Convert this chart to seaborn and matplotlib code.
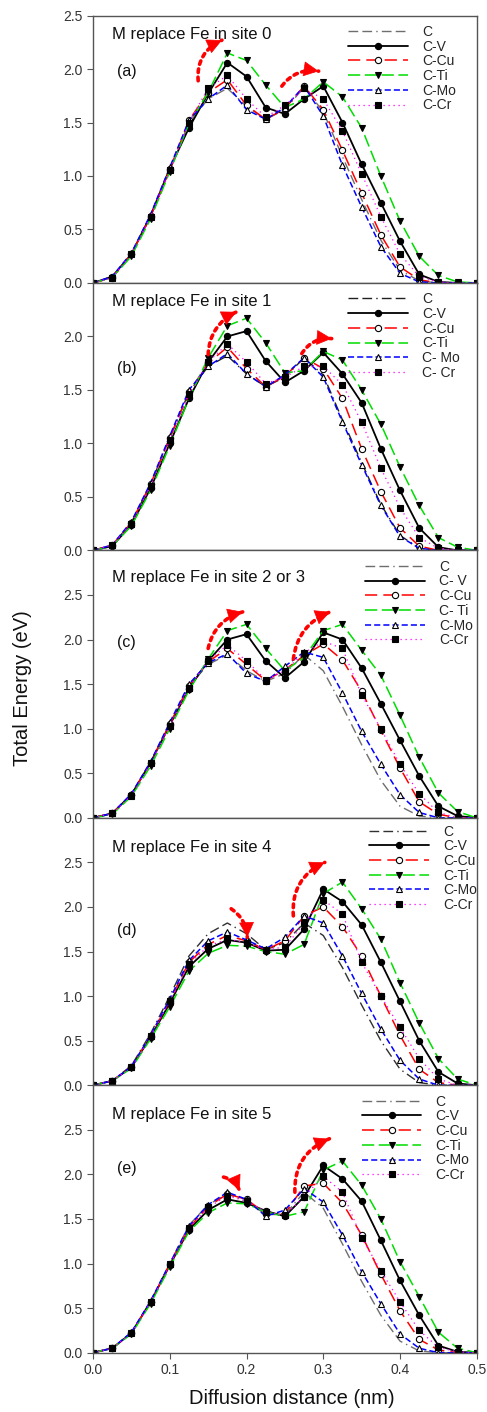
import numpy as np
import matplotlib
matplotlib.use('Agg')
import matplotlib.pyplot as plt
import seaborn as sns

# diffusion distance grid (nm)
x_nm = [0, .025, .05, .075, .1, .125, .15, .175, .2, .225, .25,
        .275, .3, .325, .35, .375, .4, .425, .45, .475, .5]

# (a) site 0
a_C  = [0, .05, .26, .62, 1.05, 1.50, 1.72, 1.82, 1.65, 1.53, 1.62, 1.83, 1.60, 1.18, .78, .40, .12, .02, 0, 0, 0]
a_V  = [0, .06, .27, .63, 1.07, 1.45, 1.77, 2.06, 1.93, 1.64, 1.58, 1.72, 1.84, 1.50, 1.11, .75, .39, .08, .01, 0, 0]
a_Cu = [0, .05, .27, .62, 1.06, 1.52, 1.78, 1.90, 1.66, 1.53, 1.63, 1.84, 1.62, 1.24, .84, .45, .15, .03, 0, 0, 0]
a_Ti = [0, .05, .25, .60, 1.04, 1.49, 1.78, 2.15, 2.08, 1.85, 1.64, 1.72, 1.88, 1.74, 1.45, 1.00, .58, .25, .07, .01, 0]
a_Mo = [0, .06, .28, .64, 1.08, 1.52, 1.72, 1.85, 1.62, 1.53, 1.64, 1.84, 1.56, 1.10, .71, .34, .09, .01, 0, 0, 0]
a_Cr = [0, .05, .27, .62, 1.06, 1.50, 1.82, 1.94, 1.72, 1.55, 1.66, 1.82, 1.72, 1.42, 1.02, .62, .27, .06, .01, 0, 0]

# (b) site 1
b_C  = [0, .05, .26, .62, 1.05, 1.48, 1.72, 1.82, 1.65, 1.53, 1.62, 1.80, 1.64, 1.22, .82, .43, .14, .02, 0, 0, 0]
b_V  = [0, .04, .24, .58, 1.00, 1.42, 1.76, 2.00, 2.05, 1.77, 1.57, 1.68, 1.85, 1.65, 1.38, .95, .56, .21, .03, 0, 0]
b_Cu = [0, .05, .26, .62, 1.05, 1.48, 1.75, 1.90, 1.70, 1.53, 1.63, 1.80, 1.70, 1.42, .95, .55, .21, .04, 0, 0, 0]
b_Ti = [0, .04, .23, .56, .98, 1.42, 1.80, 2.10, 2.17, 1.94, 1.66, 1.68, 1.86, 1.78, 1.50, 1.18, .78, .42, .12, .03, 0]
b_Mo = [0, .05, .27, .63, 1.07, 1.50, 1.72, 1.84, 1.65, 1.53, 1.64, 1.80, 1.62, 1.20, .80, .42, .13, .02, 0, 0, 0]
b_Cr = [0, .05, .25, .60, 1.03, 1.46, 1.76, 1.93, 1.76, 1.56, 1.62, 1.72, 1.72, 1.55, 1.20, .77, .40, .12, .02, 0, 0]

# (c) site 2 or 3
c_C  = [0, .05, .26, .62, 1.05, 1.48, 1.72, 1.83, 1.65, 1.53, 1.62, 1.83, 1.65, 1.25, .82, .42, .13, .02, 0, 0, 0]
c_V  = [0, .05, .26, .62, 1.04, 1.45, 1.76, 2.00, 2.06, 1.76, 1.57, 1.75, 2.08, 2.00, 1.68, 1.28, .87, .47, .13, .02, 0]
c_Cu = [0, .05, .26, .62, 1.05, 1.48, 1.75, 1.90, 1.72, 1.54, 1.66, 1.82, 1.95, 1.77, 1.42, .98, .56, .18, .04, 0, 0]
c_Ti = [0, .04, .24, .58, 1.00, 1.43, 1.78, 2.10, 2.17, 1.90, 1.65, 1.80, 2.10, 2.17, 1.88, 1.60, 1.15, .68, .28, .07, 0]
c_Mo = [0, .05, .27, .63, 1.07, 1.50, 1.74, 1.84, 1.62, 1.53, 1.70, 1.86, 1.80, 1.40, .97, .60, .26, .06, 0, 0, 0]
c_Cr = [0, .05, .25, .61, 1.03, 1.46, 1.76, 1.94, 1.76, 1.55, 1.65, 1.85, 1.98, 1.90, 1.38, 1.00, .60, .27, .06, 0, 0]

# (d) site 4
d_C  = [0, .05, .22, .58, 1.00, 1.45, 1.70, 1.82, 1.70, 1.52, 1.60, 1.82, 1.68, 1.32, .90, .50, .18, .03, 0, 0, 0]
d_V  = [0, .05, .20, .54, .92, 1.33, 1.53, 1.63, 1.60, 1.51, 1.52, 1.75, 2.20, 2.06, 1.80, 1.38, .94, .50, .15, .02, 0]
d_Cu = [0, .05, .21, .55, .95, 1.38, 1.58, 1.68, 1.62, 1.52, 1.62, 1.90, 2.00, 1.78, 1.45, 1.00, .56, .18, .03, 0, 0]
d_Ti = [0, .05, .19, .52, .88, 1.28, 1.48, 1.57, 1.56, 1.50, 1.47, 1.58, 2.15, 2.28, 1.98, 1.64, 1.15, .70, .30, .07, 0]
d_Mo = [0, .05, .21, .56, .97, 1.40, 1.62, 1.72, 1.63, 1.53, 1.66, 1.90, 1.82, 1.45, 1.03, .63, .28, .07, 0, 0, 0]
d_Cr = [0, .05, .20, .55, .94, 1.36, 1.56, 1.64, 1.60, 1.52, 1.55, 1.82, 2.08, 1.92, 1.38, 1.00, .65, .30, .07, 0, 0]

# (e) site 5
e_C  = [0, .05, .22, .58, 1.00, 1.43, 1.66, 1.78, 1.70, 1.55, 1.55, 1.80, 1.62, 1.22, .80, .42, .13, .02, 0, 0, 0]
e_V  = [0, .05, .22, .57, .98, 1.38, 1.60, 1.72, 1.68, 1.59, 1.53, 1.75, 2.10, 1.95, 1.70, 1.26, .81, .42, .08, .01, 0]
e_Cu = [0, .05, .22, .57, .99, 1.40, 1.64, 1.78, 1.72, 1.56, 1.56, 1.87, 1.90, 1.68, 1.32, .88, .47, .15, .03, 0, 0]
e_Ti = [0, .05, .21, .55, .96, 1.36, 1.57, 1.68, 1.67, 1.58, 1.53, 1.58, 2.05, 2.15, 1.88, 1.50, 1.02, .63, .23, .05, 0]
e_Mo = [0, .05, .23, .58, 1.00, 1.42, 1.66, 1.80, 1.72, 1.53, 1.60, 1.84, 1.69, 1.32, .91, .55, .21, .05, 0, 0, 0]
e_Cr = [0, .05, .22, .57, .99, 1.40, 1.63, 1.76, 1.70, 1.58, 1.54, 1.75, 1.98, 1.80, 1.29, .92, .57, .25, .06, .01, 0]

titles = ['M replace Fe in site 0', 'M replace Fe in site 1', 'M replace Fe in site 2 or 3',
          'M replace Fe in site 4', 'M replace Fe in site 5']
tags = ['(a)', '(b)', '(c)', '(d)', '(e)']
legend_labels = [
    ['C', 'C-V', 'C-Cu', 'C-Ti', 'C-Mo', 'C-Cr'],
    ['C', 'C-V', 'C-Cu', 'C-Ti', 'C- Mo', 'C- Cr'],
    ['C', 'C- V', 'C-Cu', 'C- Ti', 'C-Mo', 'C-Cr'],
    ['C', 'C-V', 'C-Cu', 'C-Ti', 'C-Mo', 'C-Cr'],
    ['C', 'C-V', 'C-Cu', 'C-Ti', 'C-Mo', 'C-Cr'],
]
panel_data = [
    [a_C, a_V, a_Cu, a_Ti, a_Mo, a_Cr],
    [b_C, b_V, b_Cu, b_Ti, b_Mo, b_Cr],
    [c_C, c_V, c_Cu, c_Ti, c_Mo, c_Cr],
    [d_C, d_V, d_Cu, d_Ti, d_Mo, d_Cr],
    [e_C, e_V, e_Cu, e_Ti, e_Mo, e_Cr],
]
y_top = [2.5, 2.5, 3.0, 3.0, 3.0]
y_ticks = [[0, .5, 1, 1.5, 2, 2.5], [0, .5, 1, 1.5, 2],
           [0, .5, 1, 1.5, 2, 2.5], [0, .5, 1, 1.5, 2, 2.5], [0, .5, 1, 1.5, 2, 2.5]]

# red dotted arrows: (tail, head, curvature)
arrows = [
    [((0.137, 1.89), (0.168, 2.27), -0.35), ((0.246, 1.84), (0.294, 1.98), -0.3)],
    [((0.150, 1.83), (0.187, 2.23), -0.3), ((0.272, 1.84), (0.311, 1.98), -0.3)],
    [((0.150, 1.90), (0.195, 2.31), -0.3), ((0.261, 1.78), (0.309, 2.31), -0.3)],
    [((0.180, 1.98), (0.201, 1.66), -0.25), ((0.261, 1.90), (0.302, 2.50), -0.35)],
    [((0.170, 1.97), (0.191, 1.82), -0.25), ((0.263, 1.80), (0.308, 2.40), -0.35)],
]
title_y = [0.93, 0.93, 0.90, 0.89, 0.89]
tag_y = [0.79, 0.68, 0.655, 0.58, 0.69]
legend_anchor = [(0.665, 0.965), (0.665, 0.965), (0.71, 0.965), (0.72, 0.975), (0.70, 0.965)]
c_colors = ['#6e6e6e', '#202020', '#6e6e6e', '#303030', '#6e6e6e']

styles = [
    dict(linestyle=(0, (7, 3, 7, 3, 1, 3)), linewidth=1.0),
    dict(color='black', linestyle='-', linewidth=1.3, marker='o', markersize=4.5,
         markerfacecolor='black', markeredgecolor='black'),
    dict(color='#ff0000', linestyle=(0, (8, 4)), linewidth=1.1, marker='o', markersize=4.5,
         markerfacecolor='white', markeredgecolor='black'),
    dict(color='#00dd00', linestyle=(0, (8, 3)), linewidth=1.1, marker='v', markersize=5,
         markerfacecolor='black', markeredgecolor='black'),
    dict(color='#0000ff', linestyle=(0, (4, 2)), linewidth=1.1, marker='^', markersize=5,
         markerfacecolor='white', markeredgecolor='black'),
    dict(color='#ff00ff', linestyle=(0, (1, 3)), linewidth=0.9, marker='s', markersize=4.5,
         markerfacecolor='black', markeredgecolor='black'),
]

sns.set_style('ticks')
plt.rcParams['font.family'] = ['Liberation Sans', 'DejaVu Sans']

fig, axes = plt.subplots(5, 1, figsize=(4.87, 14.12), dpi=100, sharex=True)
fig.subplots_adjust(left=0.191, right=0.979, top=0.989, bottom=0.042, hspace=0)

for i, ax in enumerate(axes):
    for j, vals in enumerate(panel_data[i]):
        kw = dict(styles[j])
        if j == 0:
            kw['color'] = c_colors[i]
        kw.setdefault('markeredgewidth', 0.8)
        sns.lineplot(x=x_nm, y=vals, ax=ax, errorbar=None, **kw)
    ax.set_xlim(0, 0.5)
    ax.set_ylim(0, y_top[i])

    for tail, head, rad in arrows[i]:
        # dotted curved body
        ax.annotate('', xy=head, xytext=tail,
                    arrowprops=dict(arrowstyle='-', color='red', lw=2.6,
                                    linestyle=(0, (1, 1.3)),
                                    connectionstyle=f'arc3,rad={rad}',
                                    shrinkA=0, shrinkB=0))
        # solid head, aligned with the end direction of the arc
        p1 = ax.transData.transform(tail)
        p2 = ax.transData.transform(head)
        d = p2 - p1
        ctrl = (p1 + p2) / 2 + rad * np.array([d[1], -d[0]])
        u = (p2 - ctrl) / np.hypot(*(p2 - ctrl))
        back = ax.transData.inverted().transform(p2 - 4 * u)
        ax.annotate('', xy=head, xytext=tuple(back),
                    arrowprops=dict(arrowstyle='-|>', color='red', lw=0.5,
                                    mutation_scale=25, shrinkA=0, shrinkB=0))

    ax.text(0.05, title_y[i], titles[i], transform=ax.transAxes, fontsize=12,
            ha='left', va='center', color='#111111')
    ax.text(0.062, tag_y[i], tags[i], transform=ax.transAxes, fontsize=11.5,
            ha='left', va='center', color='#111111')

    ax.set_yticks(y_ticks[i])
    ax.set_yticklabels([f'{v:.1f}' for v in y_ticks[i]])
    ax.set_xticks([0, .1, .2, .3, .4, .5])
    ax.set_ylabel('')
    for s in ax.spines.values():
        s.set_color('#555555')
        s.set_linewidth(1.0)
    ax.tick_params(axis='y', direction='out', length=4, color='#555555',
                   labelsize=10, labelcolor='#333333')
    if i < 4:
        ax.tick_params(axis='x', length=0, labelbottom=False)
    else:
        ax.tick_params(axis='x', direction='out', length=4, color='#555555',
                       labelsize=10, labelcolor='#333333')
        ax.set_xticklabels(['0.0', '0.1', '0.2', '0.3', '0.4', '0.5'])

    handles = ax.get_lines()[:6]
    ax.legend(handles=handles, labels=legend_labels[i], loc='upper left',
              bbox_to_anchor=legend_anchor[i], frameon=False, fontsize=10,
              handlelength=4.3, handletextpad=1.0, labelspacing=0.05,
              borderpad=0, borderaxespad=0, numpoints=1)

axes[-1].set_xlabel('')
fig.text(0.60, 0.0095, 'Diffusion distance (nm)', ha='center', va='center',
         fontsize=14.5, color='#111111')
fig.text(0.047, 0.513, 'Total Energy (eV)', rotation=90, ha='center', va='center',
         fontsize=14.5, color='#111111')

fig.savefig('out.png', dpi=100)
